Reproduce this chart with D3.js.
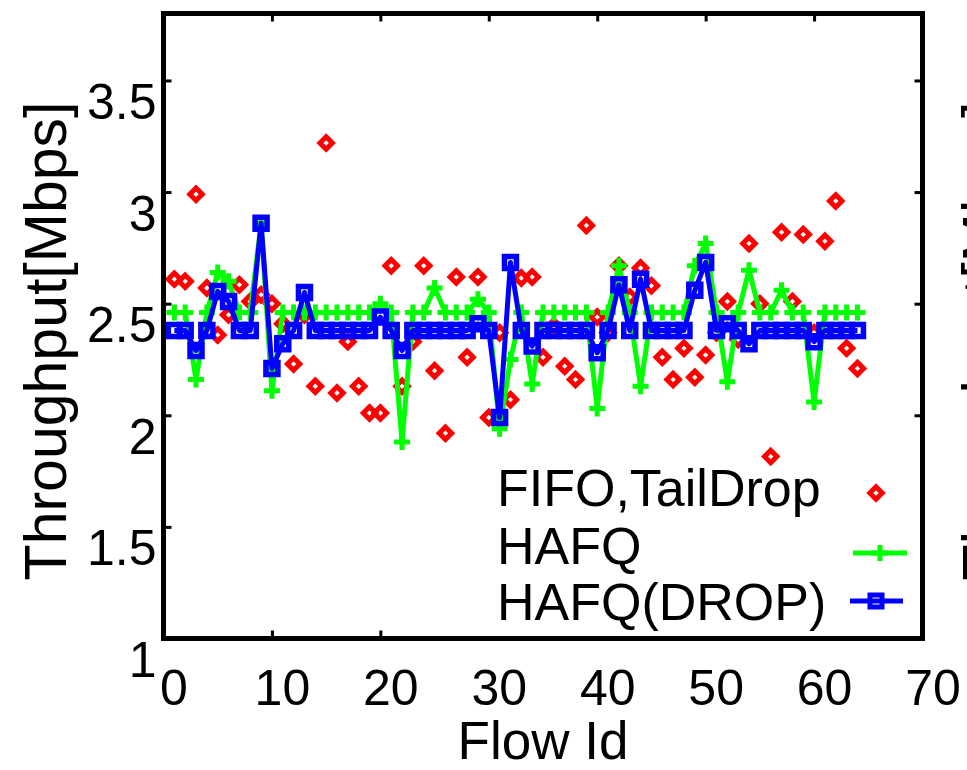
<!DOCTYPE html>
<html>
<head>
<meta charset="utf-8">
<script src="https://cdn.jsdelivr.net/npm/d3@7"></script>
<style>
  body { margin: 0; background: #fff; }
  svg { display: block; }
  text { font-family: "Liberation Sans", Arial, Helvetica, sans-serif; fill: #000; }
</style>
</head>
<body>
<div id="chart"></div>
<script>
var flowIds = [1,2,3,4,5,6,7,8,9,10,11,12,13,14,15,16,17,18,19,20,21,22,23,24,25,26,27,28,29,30,31,32,
  33,34,35,36,37,38,39,40,41,42,43,44,45,46,47,48,49,50,51,52,53,54,55,56,57,58,59,60,61,62,63,64]

// FIFO,TailDrop (points only)
var fifoTail = [2.61,2.60,2.99,2.57,2.36,2.45,2.585,2.51,2.54,2.50,2.41,2.23,2.45,2.13,3.22,2.10,
  2.33,2.13,2.01,2.01,2.67,2.13,2.33,2.67,2.20,1.92,2.62,2.26,2.62,1.99,2.37,2.07,
  2.615,2.62,2.26,2.40,2.22,2.16,2.85,2.44,2.37,2.67,2.53,2.66,2.58,2.26,2.16,2.30,
  2.17,2.27,2.37,2.51,2.34,2.77,2.50,1.815,2.82,2.51,2.81,2.37,2.78,2.96,2.30,2.21]

// HAFQ
var hafq = [2.46,2.46,2.16,2.46,2.64,2.60,2.46,2.46,2.86,2.11,2.46,2.46,2.46,2.46,2.46,2.46,
  2.46,2.46,2.46,2.50,2.46,1.88,2.46,2.46,2.57,2.46,2.46,2.46,2.52,2.46,1.94,2.25,
  2.46,2.14,2.46,2.46,2.46,2.46,2.46,2.03,2.46,2.67,2.46,2.13,2.46,2.46,2.46,2.46,
  2.67,2.77,2.46,2.15,2.46,2.65,2.46,2.46,2.56,2.46,2.46,2.06,2.46,2.46,2.46,2.46]

// HAFQ(DROP)
var hafqDrop = [2.38,2.38,2.29,2.38,2.555,2.51,2.38,2.38,2.86,2.21,2.32,2.38,2.55,2.38,2.38,2.38,
  2.38,2.38,2.38,2.44,2.38,2.29,2.38,2.38,2.38,2.38,2.38,2.38,2.41,2.38,1.99,2.685,
  2.38,2.31,2.38,2.38,2.38,2.38,2.38,2.28,2.38,2.585,2.38,2.61,2.38,2.38,2.38,2.38,
  2.56,2.685,2.38,2.41,2.38,2.32,2.38,2.38,2.38,2.38,2.38,2.33,2.38,2.38,2.38,2.38]

var xTicks = [0,10,20,30,40,50,60,70]
var yTicks = [1,1.5,2,2.5,3,3.5]
var yTickLabels = ['1','1.5','2','2.5','3','3.5']
var seriesNames = ['FIFO,TailDrop','HAFQ','HAFQ(DROP)']

var cfg = {
  w: 967, h: 770,
  left: 163.5, right: 922.5, top: 13.5, bottom: 638.5,
  red: '#ff0000', green: '#00ff00', blue: '#0000ff'
}

var svg = d3.select('#chart').append('svg')
  .attr('width', cfg.w)
  .attr('height', cfg.h)

var x = d3.scaleLinear().domain([0, 70]).range([cfg.left, cfg.right])
var y = d3.scaleLinear().domain([1, 3.8]).range([cfg.bottom, cfg.top])

var diamond = 'M0,-6.2L6.2,0L0,6.2L-6.2,0Z'
var square = 'M-6,-6H6V6H-6Z'
var plus = 'M-8,0H8M0,-8V8'

function rows(vals) {
  return flowIds.map(function(id, i) { return {id: id, v: vals[i]} })
}

var line = d3.line()
  .x(function(d) { return x(d.id) })
  .y(function(d) { return y(d.v) })

// axes: ticks inward, labels below/left like gnuplot
var xAxis = svg.append('g')
  .attr('transform', 'translate(0,' + cfg.bottom + ')')
  .call(d3.axisBottom(x).tickValues(xTicks).tickSize(-8).tickPadding(31).tickFormat(d3.format('d')))
xAxis.select('.domain').remove()
xAxis.selectAll('line').attr('stroke', '#000').attr('stroke-width', 3)
xAxis.selectAll('text').style('font-size', '50px').attr('dx', 10)

var xTop = svg.append('g')
  .attr('transform', 'translate(0,' + cfg.top + ')')
  .call(d3.axisTop(x).tickValues(xTicks).tickSize(-8).tickFormat(''))
xTop.select('.domain').remove()
xTop.selectAll('line').attr('stroke', '#000').attr('stroke-width', 3)

var yAxis = svg.append('g')
  .attr('transform', 'translate(' + cfg.left + ',0)')
  .call(d3.axisLeft(y).tickValues(yTicks).tickSize(-8).tickPadding(7)
    .tickFormat(function(d, i) { return yTickLabels[i] }))
yAxis.select('.domain').remove()
yAxis.selectAll('line').attr('stroke', '#000').attr('stroke-width', 3)
yAxis.selectAll('text').style('font-size', '50px').attr('dy', '0.76em')

var yRight = svg.append('g')
  .attr('transform', 'translate(' + cfg.right + ',0)')
  .call(d3.axisRight(y).tickValues(yTicks).tickSize(-8).tickFormat(''))
yRight.select('.domain').remove()
yRight.selectAll('line').attr('stroke', '#000').attr('stroke-width', 3)

// series
var plot = svg.append('g')

plot.selectAll('.fifo')
  .data(rows(fifoTail))
  .enter().append('path')
  .attr('class', 'fifo')
  .attr('d', diamond)
  .attr('transform', function(d) { return 'translate(' + x(d.id) + ',' + y(d.v) + ')' })
  .style('fill', 'none')
  .style('stroke', cfg.red)
  .style('stroke-width', 5)

plot.append('path')
  .datum(rows(hafq))
  .attr('d', line)
  .style('fill', 'none')
  .style('stroke', cfg.green)
  .style('stroke-width', 5)
  .style('stroke-linejoin', 'round')

plot.selectAll('.hafq')
  .data(rows(hafq))
  .enter().append('path')
  .attr('class', 'hafq')
  .attr('d', plus)
  .attr('transform', function(d) { return 'translate(' + x(d.id) + ',' + y(d.v) + ')' })
  .style('stroke', cfg.green)
  .style('stroke-width', 5)

plot.append('path')
  .datum(rows(hafqDrop))
  .attr('d', line)
  .style('fill', 'none')
  .style('stroke', cfg.blue)
  .style('stroke-width', 5)
  .style('stroke-linejoin', 'round')

plot.selectAll('.drop')
  .data(rows(hafqDrop))
  .enter().append('path')
  .attr('class', 'drop')
  .attr('d', square)
  .attr('transform', function(d) { return 'translate(' + x(d.id) + ',' + y(d.v) + ')' })
  .style('fill', 'none')
  .style('stroke', cfg.blue)
  .style('stroke-width', 5.5)

// key (opaque)
var key = svg.append('g')
key.append('rect')
  .attr('x', 482).attr('y', 466)
  .attr('width', cfg.right - 484).attr('height', cfg.bottom - 468)
  .style('fill', '#fff')

var keyRows = [506, 564, 620]
var keySym = [493, 553, 601]
key.selectAll('.keytext')
  .data(seriesNames)
  .enter().append('text')
  .attr('x', 497)
  .attr('y', function(d, i) { return keyRows[i] })
  .style('font-size', '52px')
  .text(function(d) { return d })

key.append('path')
  .attr('d', diamond)
  .attr('transform', 'translate(876,' + keySym[0] + ')')
  .style('fill', 'none').style('stroke', cfg.red).style('stroke-width', 5)
key.append('line')
  .attr('x1', 853).attr('x2', 907).attr('y1', keySym[1]).attr('y2', keySym[1])
  .style('stroke', cfg.green).style('stroke-width', 5)
key.append('path')
  .attr('d', plus)
  .attr('transform', 'translate(880,' + keySym[1] + ')')
  .style('stroke', cfg.green).style('stroke-width', 5)
key.append('line')
  .attr('x1', 850).attr('x2', 903).attr('y1', keySym[2]).attr('y2', keySym[2])
  .style('stroke', cfg.blue).style('stroke-width', 5)
key.append('path')
  .attr('d', square)
  .attr('transform', 'translate(876,' + keySym[2] + ')')
  .style('fill', 'none').style('stroke', cfg.blue).style('stroke-width', 5)

// frame
svg.append('rect')
  .attr('x', cfg.left).attr('y', cfg.top)
  .attr('width', cfg.right - cfg.left).attr('height', cfg.bottom - cfg.top)
  .style('fill', 'none').style('stroke', '#000').style('stroke-width', 5)

// axis titles
svg.append('text')
  .attr('x', (cfg.left + cfg.right) / 2)
  .attr('y', 759)
  .attr('text-anchor', 'middle')
  .style('font-size', '53px')
  .text('Flow Id')

svg.append('text')
  .attr('transform', 'translate(66,341) rotate(-90)')
  .attr('text-anchor', 'middle')
  .style('font-size', '59px')
  .text('Throughput[Mbps]')

// edge of the neighbouring panel, cut off by the crop
svg.append('text')
  .attr('transform', 'translate(1004,341) rotate(-90)')
  .attr('text-anchor', 'middle')
  .style('font-size', '59px')
  .text('Throughput[Mbps]')
</script>
</body>
</html>
